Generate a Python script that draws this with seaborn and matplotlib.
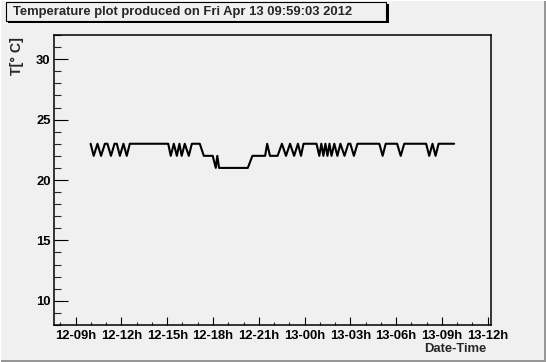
import matplotlib
matplotlib.use("Agg")
import matplotlib.pyplot as plt
import matplotlib.dates as mdates
from matplotlib.patches import Rectangle
import seaborn as sns
import pandas as pd

# ---- data ----
day12_times = ["09:59", "10:11", "10:26", "10:40", "10:55", "11:05", "11:19", "11:33",
               "11:42", "11:54", "12:08", "12:21", "12:33", "15:04", "15:14", "15:26",
               "15:38", "15:48", "15:57", "16:09", "16:25", "16:37", "17:08", "17:24",
               "17:59", "18:11", "18:17", "18:24", "20:17", "20:35", "21:25", "21:33",
               "21:44", "22:14", "22:31", "22:47", "23:03", "23:19", "23:34", "23:46",
               "23:56"]
day12_temps = [23, 22, 23, 22, 23, 23, 22, 23,
               23, 22, 23, 22, 23, 23, 22, 23,
               22, 23, 22, 23, 22, 23, 23, 22,
               22, 21, 22, 21, 21, 22, 22, 23,
               22, 22, 23, 22, 23, 22, 23, 22,
               23]
day13_times = ["00:47", "00:58", "01:06", "01:14", "01:22", "01:30", "01:38", "01:46",
               "01:57", "02:09", "02:21", "02:37", "02:52", "03:00", "03:14", "03:28",
               "04:54", "05:07", "05:19", "06:04", "06:18", "06:32", "07:58", "08:10",
               "08:23", "08:35", "08:47", "09:48"]
day13_temps = [23, 22, 23, 22, 23, 22, 23, 22,
               23, 22, 23, 22, 23, 23, 22, 23,
               23, 22, 23, 23, 22, 23, 23, 22,
               23, 22, 23, 23]

title_text = "Temperature plot produced on Fri Apr 13 09:59:03 2012"
y_label = "T[\u00b0 C]"
x_label = "Date-Time"
x_start = "2012-04-12 07:35"
x_end = "2012-04-13 12:13"
y_range = (8, 32)
y_ticks = [10, 15, 20, 25, 30]

times = ([pd.Timestamp("2012-04-12 " + t) for t in day12_times] +
         [pd.Timestamp("2012-04-13 " + t) for t in day13_times])
temps = day12_temps + day13_temps
df = pd.DataFrame({"time": times, "temp": temps})

# ---- style ----
bg = "#f0f0f0"
sns.set_style("white")
plt.rcParams["font.family"] = ["Liberation Sans", "DejaVu Sans"]
plt.rcParams["font.weight"] = "bold"

W, H = 546, 362
fig = plt.figure(figsize=(W / 100, H / 100), dpi=100, facecolor=bg)

L, R, T, B = 54, 491, 35, 325
ax = fig.add_axes([L / W, 1 - B / H, (R - L) / W, (B - T) / H])
ax.set_facecolor(bg)

sns.lineplot(data=df, x="time", y="temp", ax=ax, color="black",
             linewidth=1.5, estimator=None, sort=True)

ax.set_xlim(pd.Timestamp(x_start), pd.Timestamp(x_end))
ax.set_ylim(*y_range)
ax.set_yticks(y_ticks)
ax.yaxis.set_minor_locator(matplotlib.ticker.MultipleLocator(1))
ax.xaxis.set_major_locator(mdates.HourLocator(byhour=range(0, 24, 3)))
ax.xaxis.set_minor_locator(mdates.HourLocator())
ax.xaxis.set_major_formatter(mdates.DateFormatter("%d-%Hh"))
ax.set_xlabel("")
ax.set_ylabel("")

for s in ax.spines.values():
    s.set_visible(True)
    s.set_color("black")
    s.set_linewidth(1.1)

fs = 9.4
ax.tick_params(axis="y", which="major", direction="in", length=10, width=0.8,
               pad=2.5, labelsize=fs, left=True, right=False, colors="black")
ax.tick_params(axis="y", which="minor", direction="in", length=5, width=0.8,
               left=True, right=False)
ax.tick_params(axis="x", which="major", direction="in", length=6, width=0.8,
               pad=3.5, labelsize=fs, bottom=True, top=False, colors="black")
ax.tick_params(axis="x", which="minor", direction="in", length=2.5, width=0.8,
               bottom=True, top=False)
for lab in ax.get_xticklabels() + ax.get_yticklabels():
    lab.set_fontweight("bold")

# axis titles
fig.text(17 / W, 1 - 37 / H, y_label, rotation=90, ha="center", va="top",
         fontsize=10.2, fontweight="bold")
fig.text(486 / W, 1 - 349.5 / H, x_label, ha="right", va="center",
         fontsize=fs, fontweight="bold")

# title box with shadow
def fx(px):
    return px / W

def fy(py):
    return 1 - py / H

fig.patches.append(Rectangle((fx(7.5), fy(23)), fx(388.5) - fx(7.5), fy(4) - fy(23),
                             transform=fig.transFigure, facecolor="black",
                             edgecolor="none", zorder=1))
fig.patches.append(Rectangle((fx(5.5), fy(21)), fx(386) - fx(5.5), fy(2) - fy(21),
                             transform=fig.transFigure, facecolor=bg,
                             edgecolor="black", linewidth=0.8, zorder=2))
fig.text(13 / W, 1 - 12.5 / H, title_text, ha="left", va="center",
         fontsize=fs, fontweight="bold", zorder=3)

# canvas bevel
fig.patches.append(Rectangle((fx(544), 0), fx(2), 1, transform=fig.transFigure,
                             facecolor="#969696", edgecolor="none", zorder=0))
fig.patches.append(Rectangle((0, 0), 1, 2 / H, transform=fig.transFigure,
                             facecolor="#969696", edgecolor="none", zorder=0))
fig.patches.append(Rectangle((0, fy(1)), 1, 1 / H, transform=fig.transFigure,
                             facecolor="white", edgecolor="none", zorder=0))
fig.patches.append(Rectangle((0, 0), 1 / W, 1, transform=fig.transFigure,
                             facecolor="white", edgecolor="none", zorder=0))

fig.savefig("out.png", dpi=100, facecolor=bg)
